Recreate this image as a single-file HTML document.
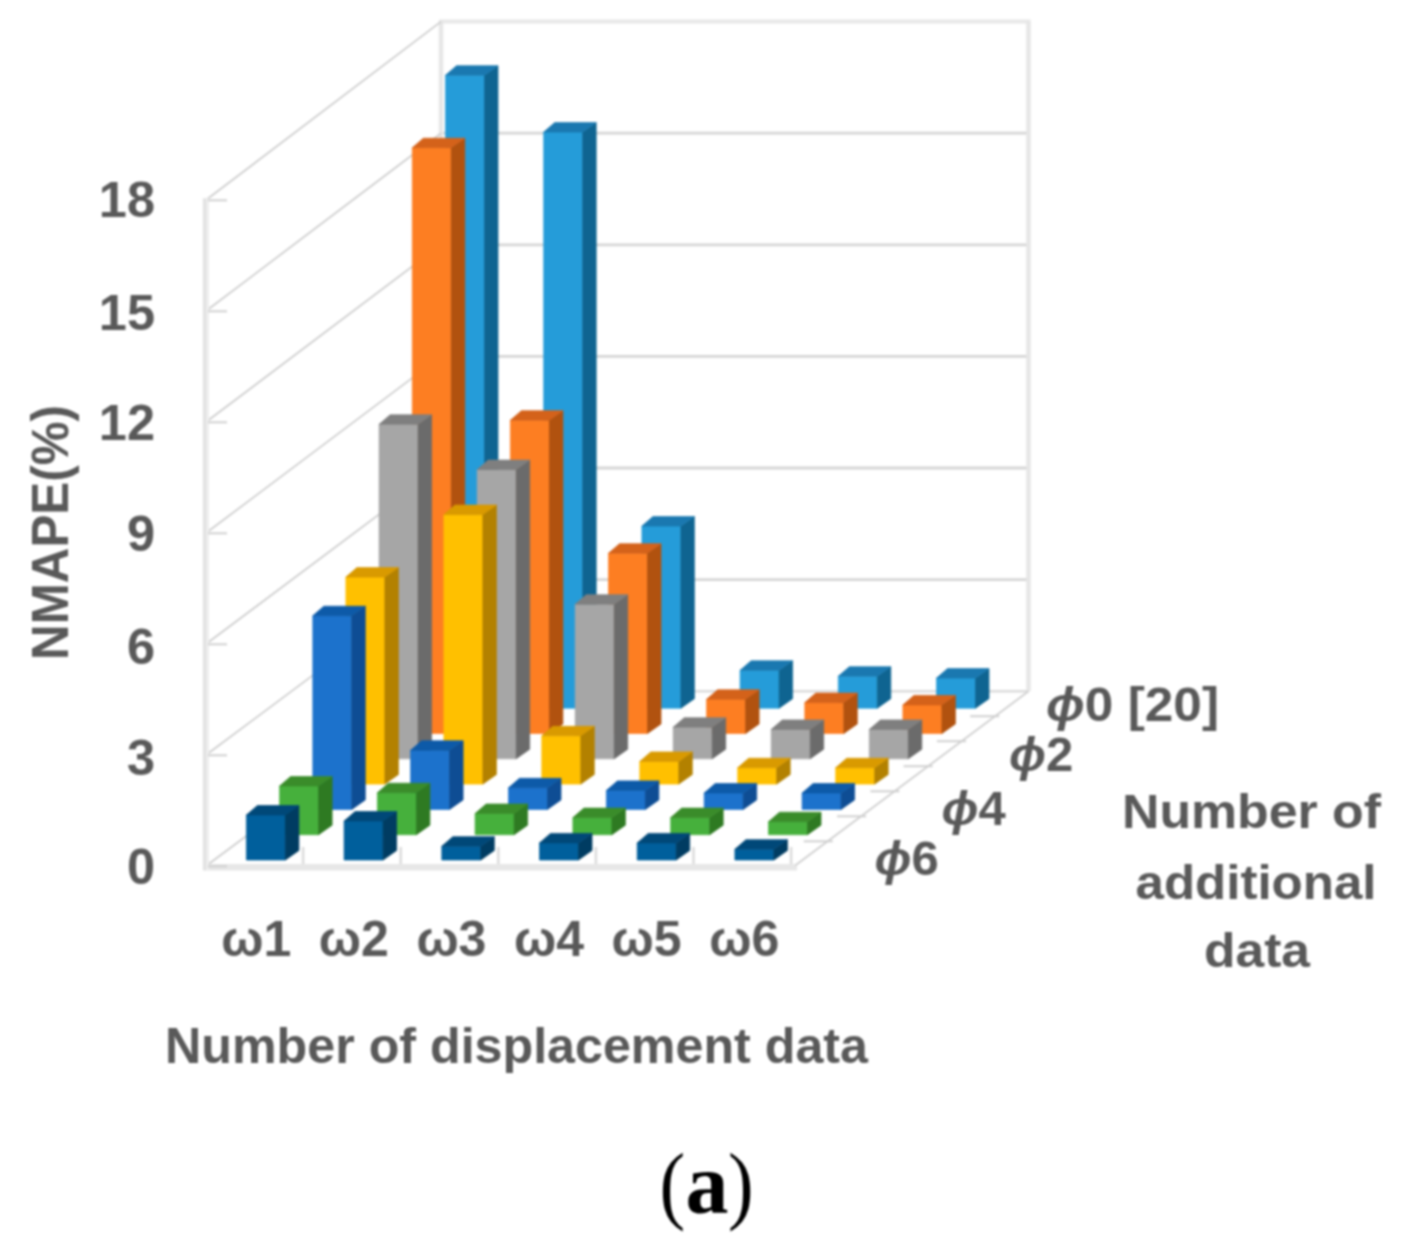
<!DOCTYPE html>
<html><head><meta charset="utf-8"><title>NMAPE 3D chart</title>
<style>
html,body{margin:0;padding:0;background:#fff;}
body{width:1411px;height:1250px;overflow:hidden;}
svg{display:block;filter:blur(1px);}
text{font-family:'Liberation Sans', Arial, sans-serif;}
</style></head>
<body>
<svg width="1411" height="1250" viewBox="0 0 1411 1250">
<rect width="1411" height="1250" fill="#ffffff"/>
<line x1="441" y1="579.6" x2="1028.5" y2="579.6" stroke="#d6d6d6" stroke-width="2.8"/>
<line x1="441" y1="468" x2="1028.5" y2="468" stroke="#d6d6d6" stroke-width="2.8"/>
<line x1="441" y1="356.4" x2="1028.5" y2="356.4" stroke="#d6d6d6" stroke-width="2.8"/>
<line x1="441" y1="244.8" x2="1028.5" y2="244.8" stroke="#d6d6d6" stroke-width="2.8"/>
<line x1="441" y1="133.2" x2="1028.5" y2="133.2" stroke="#d6d6d6" stroke-width="2.8"/>
<line x1="441" y1="691.2" x2="1028.5" y2="691.2" stroke="#dcdcdc" stroke-width="2.4"/>
<line x1="439" y1="21.6" x2="1030.5" y2="21.6" stroke="#e8e8e8" stroke-width="4"/>
<line x1="441" y1="21.6" x2="441" y2="691.2" stroke="#e6e6e6" stroke-width="4.5"/>
<line x1="1028.5" y1="21.6" x2="1028.5" y2="691.2" stroke="#e6e6e6" stroke-width="4.5"/>
<line x1="207" y1="865.3" x2="441" y2="691.2" stroke="#cdcdcd" stroke-width="1.7"/>
<line x1="207" y1="754.3" x2="441" y2="579.6" stroke="#cdcdcd" stroke-width="1.7"/>
<line x1="207" y1="643.3" x2="441" y2="468" stroke="#cdcdcd" stroke-width="1.7"/>
<line x1="207" y1="532.3" x2="441" y2="356.4" stroke="#cdcdcd" stroke-width="1.7"/>
<line x1="207" y1="421.3" x2="441" y2="244.8" stroke="#cdcdcd" stroke-width="1.7"/>
<line x1="207" y1="310.3" x2="441" y2="133.2" stroke="#cdcdcd" stroke-width="1.7"/>
<line x1="207" y1="199.3" x2="441" y2="21.6" stroke="#cdcdcd" stroke-width="1.7"/>
<rect x="203" y="864" width="594" height="6.5" fill="#e7e7e7"/>
<line x1="207.5" y1="198.3" x2="207.5" y2="870.3" stroke="#eeeeee" stroke-width="3"/>
<line x1="204.5" y1="198.3" x2="204.5" y2="870.3" stroke="#e2e2e2" stroke-width="3.2"/>
<line x1="208" y1="866.3" x2="227" y2="866.3" stroke="#d0d0d0" stroke-width="2"/>
<line x1="208" y1="755.3" x2="227" y2="755.3" stroke="#d0d0d0" stroke-width="2"/>
<line x1="208" y1="644.3" x2="227" y2="644.3" stroke="#d0d0d0" stroke-width="2"/>
<line x1="208" y1="533.3" x2="227" y2="533.3" stroke="#d0d0d0" stroke-width="2"/>
<line x1="208" y1="422.3" x2="227" y2="422.3" stroke="#d0d0d0" stroke-width="2"/>
<line x1="208" y1="311.3" x2="227" y2="311.3" stroke="#d0d0d0" stroke-width="2"/>
<line x1="208" y1="200.3" x2="227" y2="200.3" stroke="#d0d0d0" stroke-width="2"/>
<line x1="795.5" y1="865.3" x2="1028.5" y2="691.2" stroke="#cfcfcf" stroke-width="1.8"/>
<line x1="803.8" y1="841.3" x2="832.8" y2="841.3" stroke="#d0d0d0" stroke-width="2"/>
<line x1="837.1" y1="816.3" x2="866.1" y2="816.3" stroke="#d0d0d0" stroke-width="2"/>
<line x1="870.4" y1="791.3" x2="899.4" y2="791.3" stroke="#d0d0d0" stroke-width="2"/>
<line x1="903.6" y1="766.2" x2="932.6" y2="766.2" stroke="#d0d0d0" stroke-width="2"/>
<line x1="936.9" y1="741.2" x2="965.9" y2="741.2" stroke="#d0d0d0" stroke-width="2"/>
<line x1="970.2" y1="716.2" x2="999.2" y2="716.2" stroke="#d0d0d0" stroke-width="2"/>
<line x1="303.1" y1="847" x2="303.1" y2="864" stroke="#dcdcdc" stroke-width="2.6"/>
<line x1="400.7" y1="847" x2="400.7" y2="864" stroke="#dcdcdc" stroke-width="2.6"/>
<line x1="498.3" y1="847" x2="498.3" y2="864" stroke="#dcdcdc" stroke-width="2.6"/>
<line x1="595.9" y1="847" x2="595.9" y2="864" stroke="#dcdcdc" stroke-width="2.6"/>
<line x1="693.5" y1="847" x2="693.5" y2="864" stroke="#dcdcdc" stroke-width="2.6"/>
<line x1="791.1" y1="847" x2="791.1" y2="864" stroke="#dcdcdc" stroke-width="2.6"/>
<polygon points="445.5,75.2 484.5,75.2 484.5,708.2 445.5,708.2" fill="#259cd9" stroke="#259cd9" stroke-width="0.7" stroke-linejoin="round"/>
<polygon points="484.5,75.2 498,65.7 498,698.7 484.5,708.2" fill="#0f6491" stroke="#0f6491" stroke-width="0.7" stroke-linejoin="round"/>
<polygon points="445.5,75.2 484.5,75.2 498,65.7 456.5,65.7" fill="#1a78b0" stroke="#1a78b0" stroke-width="0.7" stroke-linejoin="round"/>
<polygon points="543.7,132.1 582.7,132.1 582.7,708.2 543.7,708.2" fill="#259cd9" stroke="#259cd9" stroke-width="0.7" stroke-linejoin="round"/>
<polygon points="582.7,132.1 596.2,122.6 596.2,698.7 582.7,708.2" fill="#0f6491" stroke="#0f6491" stroke-width="0.7" stroke-linejoin="round"/>
<polygon points="543.7,132.1 582.7,132.1 596.2,122.6 554.7,122.6" fill="#1a78b0" stroke="#1a78b0" stroke-width="0.7" stroke-linejoin="round"/>
<polygon points="641.9,526.1 680.9,526.1 680.9,708.2 641.9,708.2" fill="#259cd9" stroke="#259cd9" stroke-width="0.7" stroke-linejoin="round"/>
<polygon points="680.9,526.1 694.4,516.6 694.4,698.7 680.9,708.2" fill="#0f6491" stroke="#0f6491" stroke-width="0.7" stroke-linejoin="round"/>
<polygon points="641.9,526.1 680.9,526.1 694.4,516.6 652.9,516.6" fill="#1a78b0" stroke="#1a78b0" stroke-width="0.7" stroke-linejoin="round"/>
<polygon points="740.1,670.3 779.1,670.3 779.1,708.2 740.1,708.2" fill="#259cd9" stroke="#259cd9" stroke-width="0.7" stroke-linejoin="round"/>
<polygon points="779.1,670.3 792.6,660.8 792.6,698.7 779.1,708.2" fill="#0f6491" stroke="#0f6491" stroke-width="0.7" stroke-linejoin="round"/>
<polygon points="740.1,670.3 779.1,670.3 792.6,660.8 751.1,660.8" fill="#1a78b0" stroke="#1a78b0" stroke-width="0.7" stroke-linejoin="round"/>
<polygon points="838.3,676.2 877.3,676.2 877.3,708.2 838.3,708.2" fill="#259cd9" stroke="#259cd9" stroke-width="0.7" stroke-linejoin="round"/>
<polygon points="877.3,676.2 890.8,666.7 890.8,698.7 877.3,708.2" fill="#0f6491" stroke="#0f6491" stroke-width="0.7" stroke-linejoin="round"/>
<polygon points="838.3,676.2 877.3,676.2 890.8,666.7 849.3,666.7" fill="#1a78b0" stroke="#1a78b0" stroke-width="0.7" stroke-linejoin="round"/>
<polygon points="936.5,678.1 975.5,678.1 975.5,708.2 936.5,708.2" fill="#259cd9" stroke="#259cd9" stroke-width="0.7" stroke-linejoin="round"/>
<polygon points="975.5,678.1 989,668.6 989,698.7 975.5,708.2" fill="#0f6491" stroke="#0f6491" stroke-width="0.7" stroke-linejoin="round"/>
<polygon points="936.5,678.1 975.5,678.1 989,668.6 947.5,668.6" fill="#1a78b0" stroke="#1a78b0" stroke-width="0.7" stroke-linejoin="round"/>
<polygon points="412.3,147.7 451.3,147.7 451.3,733.5 412.3,733.5" fill="#fd7e22" stroke="#fd7e22" stroke-width="0.7" stroke-linejoin="round"/>
<polygon points="451.3,147.7 464.8,138.2 464.8,724 451.3,733.5" fill="#b1520f" stroke="#b1520f" stroke-width="0.7" stroke-linejoin="round"/>
<polygon points="412.3,147.7 451.3,147.7 464.8,138.2 423.3,138.2" fill="#d4621a" stroke="#d4621a" stroke-width="0.7" stroke-linejoin="round"/>
<polygon points="510.4,420.2 549.4,420.2 549.4,733.5 510.4,733.5" fill="#fd7e22" stroke="#fd7e22" stroke-width="0.7" stroke-linejoin="round"/>
<polygon points="549.4,420.2 562.9,410.7 562.9,724 549.4,733.5" fill="#b1520f" stroke="#b1520f" stroke-width="0.7" stroke-linejoin="round"/>
<polygon points="510.4,420.2 549.4,420.2 562.9,410.7 521.4,410.7" fill="#d4621a" stroke="#d4621a" stroke-width="0.7" stroke-linejoin="round"/>
<polygon points="608.5,553.2 647.5,553.2 647.5,733.5 608.5,733.5" fill="#fd7e22" stroke="#fd7e22" stroke-width="0.7" stroke-linejoin="round"/>
<polygon points="647.5,553.2 661,543.7 661,724 647.5,733.5" fill="#b1520f" stroke="#b1520f" stroke-width="0.7" stroke-linejoin="round"/>
<polygon points="608.5,553.2 647.5,553.2 661,543.7 619.5,543.7" fill="#d4621a" stroke="#d4621a" stroke-width="0.7" stroke-linejoin="round"/>
<polygon points="706.6,699.3 745.6,699.3 745.6,733.5 706.6,733.5" fill="#fd7e22" stroke="#fd7e22" stroke-width="0.7" stroke-linejoin="round"/>
<polygon points="745.6,699.3 759.1,689.8 759.1,724 745.6,733.5" fill="#b1520f" stroke="#b1520f" stroke-width="0.7" stroke-linejoin="round"/>
<polygon points="706.6,699.3 745.6,699.3 759.1,689.8 717.6,689.8" fill="#d4621a" stroke="#d4621a" stroke-width="0.7" stroke-linejoin="round"/>
<polygon points="804.8,702.6 843.8,702.6 843.8,733.5 804.8,733.5" fill="#fd7e22" stroke="#fd7e22" stroke-width="0.7" stroke-linejoin="round"/>
<polygon points="843.8,702.6 857.3,693.1 857.3,724 843.8,733.5" fill="#b1520f" stroke="#b1520f" stroke-width="0.7" stroke-linejoin="round"/>
<polygon points="804.8,702.6 843.8,702.6 857.3,693.1 815.8,693.1" fill="#d4621a" stroke="#d4621a" stroke-width="0.7" stroke-linejoin="round"/>
<polygon points="902.9,704.9 941.9,704.9 941.9,733.5 902.9,733.5" fill="#fd7e22" stroke="#fd7e22" stroke-width="0.7" stroke-linejoin="round"/>
<polygon points="941.9,704.9 955.4,695.4 955.4,724 941.9,733.5" fill="#b1520f" stroke="#b1520f" stroke-width="0.7" stroke-linejoin="round"/>
<polygon points="902.9,704.9 941.9,704.9 955.4,695.4 913.9,695.4" fill="#d4621a" stroke="#d4621a" stroke-width="0.7" stroke-linejoin="round"/>
<polygon points="379.1,424.3 418.1,424.3 418.1,758.8 379.1,758.8" fill="#a6a6a6" stroke="#a6a6a6" stroke-width="0.7" stroke-linejoin="round"/>
<polygon points="418.1,424.3 431.6,414.8 431.6,749.3 418.1,758.8" fill="#6b6b6b" stroke="#6b6b6b" stroke-width="0.7" stroke-linejoin="round"/>
<polygon points="379.1,424.3 418.1,424.3 431.6,414.8 390.1,414.8" fill="#7f7f7f" stroke="#7f7f7f" stroke-width="0.7" stroke-linejoin="round"/>
<polygon points="477.2,469.6 516.2,469.6 516.2,758.8 477.2,758.8" fill="#a6a6a6" stroke="#a6a6a6" stroke-width="0.7" stroke-linejoin="round"/>
<polygon points="516.2,469.6 529.7,460.1 529.7,749.3 516.2,758.8" fill="#6b6b6b" stroke="#6b6b6b" stroke-width="0.7" stroke-linejoin="round"/>
<polygon points="477.2,469.6 516.2,469.6 529.7,460.1 488.2,460.1" fill="#7f7f7f" stroke="#7f7f7f" stroke-width="0.7" stroke-linejoin="round"/>
<polygon points="575.2,604.2 614.2,604.2 614.2,758.8 575.2,758.8" fill="#a6a6a6" stroke="#a6a6a6" stroke-width="0.7" stroke-linejoin="round"/>
<polygon points="614.2,604.2 627.7,594.7 627.7,749.3 614.2,758.8" fill="#6b6b6b" stroke="#6b6b6b" stroke-width="0.7" stroke-linejoin="round"/>
<polygon points="575.2,604.2 614.2,604.2 627.7,594.7 586.2,594.7" fill="#7f7f7f" stroke="#7f7f7f" stroke-width="0.7" stroke-linejoin="round"/>
<polygon points="673.2,727.2 712.2,727.2 712.2,758.8 673.2,758.8" fill="#a6a6a6" stroke="#a6a6a6" stroke-width="0.7" stroke-linejoin="round"/>
<polygon points="712.2,727.2 725.7,717.7 725.7,749.3 712.2,758.8" fill="#6b6b6b" stroke="#6b6b6b" stroke-width="0.7" stroke-linejoin="round"/>
<polygon points="673.2,727.2 712.2,727.2 725.7,717.7 684.2,717.7" fill="#7f7f7f" stroke="#7f7f7f" stroke-width="0.7" stroke-linejoin="round"/>
<polygon points="771.2,729.4 810.2,729.4 810.2,758.8 771.2,758.8" fill="#a6a6a6" stroke="#a6a6a6" stroke-width="0.7" stroke-linejoin="round"/>
<polygon points="810.2,729.4 823.7,719.9 823.7,749.3 810.2,758.8" fill="#6b6b6b" stroke="#6b6b6b" stroke-width="0.7" stroke-linejoin="round"/>
<polygon points="771.2,729.4 810.2,729.4 823.7,719.9 782.2,719.9" fill="#7f7f7f" stroke="#7f7f7f" stroke-width="0.7" stroke-linejoin="round"/>
<polygon points="869.3,729.4 908.3,729.4 908.3,758.8 869.3,758.8" fill="#a6a6a6" stroke="#a6a6a6" stroke-width="0.7" stroke-linejoin="round"/>
<polygon points="908.3,729.4 921.8,719.9 921.8,749.3 908.3,758.8" fill="#6b6b6b" stroke="#6b6b6b" stroke-width="0.7" stroke-linejoin="round"/>
<polygon points="869.3,729.4 908.3,729.4 921.8,719.9 880.3,719.9" fill="#7f7f7f" stroke="#7f7f7f" stroke-width="0.7" stroke-linejoin="round"/>
<polygon points="345.9,577.1 384.9,577.1 384.9,784.1 345.9,784.1" fill="#ffc000" stroke="#ffc000" stroke-width="0.7" stroke-linejoin="round"/>
<polygon points="384.9,577.1 398.4,567.6 398.4,774.6 384.9,784.1" fill="#b38100" stroke="#b38100" stroke-width="0.7" stroke-linejoin="round"/>
<polygon points="345.9,577.1 384.9,577.1 398.4,567.6 356.9,567.6" fill="#d99a00" stroke="#d99a00" stroke-width="0.7" stroke-linejoin="round"/>
<polygon points="443.9,514.6 482.9,514.6 482.9,784.1 443.9,784.1" fill="#ffc000" stroke="#ffc000" stroke-width="0.7" stroke-linejoin="round"/>
<polygon points="482.9,514.6 496.4,505.1 496.4,774.6 482.9,784.1" fill="#b38100" stroke="#b38100" stroke-width="0.7" stroke-linejoin="round"/>
<polygon points="443.9,514.6 482.9,514.6 496.4,505.1 454.9,505.1" fill="#d99a00" stroke="#d99a00" stroke-width="0.7" stroke-linejoin="round"/>
<polygon points="541.8,735.8 580.8,735.8 580.8,784.1 541.8,784.1" fill="#ffc000" stroke="#ffc000" stroke-width="0.7" stroke-linejoin="round"/>
<polygon points="580.8,735.8 594.3,726.3 594.3,774.6 580.8,784.1" fill="#b38100" stroke="#b38100" stroke-width="0.7" stroke-linejoin="round"/>
<polygon points="541.8,735.8 580.8,735.8 594.3,726.3 552.8,726.3" fill="#d99a00" stroke="#d99a00" stroke-width="0.7" stroke-linejoin="round"/>
<polygon points="639.8,761.4 678.8,761.4 678.8,784.1 639.8,784.1" fill="#ffc000" stroke="#ffc000" stroke-width="0.7" stroke-linejoin="round"/>
<polygon points="678.8,761.4 692.3,751.9 692.3,774.6 678.8,784.1" fill="#b38100" stroke="#b38100" stroke-width="0.7" stroke-linejoin="round"/>
<polygon points="639.8,761.4 678.8,761.4 692.3,751.9 650.8,751.9" fill="#d99a00" stroke="#d99a00" stroke-width="0.7" stroke-linejoin="round"/>
<polygon points="737.7,767.7 776.7,767.7 776.7,784.1 737.7,784.1" fill="#ffc000" stroke="#ffc000" stroke-width="0.7" stroke-linejoin="round"/>
<polygon points="776.7,767.7 790.2,758.2 790.2,774.6 776.7,784.1" fill="#b38100" stroke="#b38100" stroke-width="0.7" stroke-linejoin="round"/>
<polygon points="737.7,767.7 776.7,767.7 790.2,758.2 748.7,758.2" fill="#d99a00" stroke="#d99a00" stroke-width="0.7" stroke-linejoin="round"/>
<polygon points="835.7,767.7 874.7,767.7 874.7,784.1 835.7,784.1" fill="#ffc000" stroke="#ffc000" stroke-width="0.7" stroke-linejoin="round"/>
<polygon points="874.7,767.7 888.2,758.2 888.2,774.6 874.7,784.1" fill="#b38100" stroke="#b38100" stroke-width="0.7" stroke-linejoin="round"/>
<polygon points="835.7,767.7 874.7,767.7 888.2,758.2 846.7,758.2" fill="#d99a00" stroke="#d99a00" stroke-width="0.7" stroke-linejoin="round"/>
<polygon points="312.8,615.7 351.8,615.7 351.8,809.4 312.8,809.4" fill="#1c72cc" stroke="#1c72cc" stroke-width="0.7" stroke-linejoin="round"/>
<polygon points="351.8,615.7 365.3,606.2 365.3,799.9 351.8,809.4" fill="#0e4d94" stroke="#0e4d94" stroke-width="0.7" stroke-linejoin="round"/>
<polygon points="312.8,615.7 351.8,615.7 365.3,606.2 323.8,606.2" fill="#0d5aa8" stroke="#0d5aa8" stroke-width="0.7" stroke-linejoin="round"/>
<polygon points="410.6,750.3 449.6,750.3 449.6,809.4 410.6,809.4" fill="#1c72cc" stroke="#1c72cc" stroke-width="0.7" stroke-linejoin="round"/>
<polygon points="449.6,750.3 463.1,740.8 463.1,799.9 449.6,809.4" fill="#0e4d94" stroke="#0e4d94" stroke-width="0.7" stroke-linejoin="round"/>
<polygon points="410.6,750.3 449.6,750.3 463.1,740.8 421.6,740.8" fill="#0d5aa8" stroke="#0d5aa8" stroke-width="0.7" stroke-linejoin="round"/>
<polygon points="508.5,787.8 547.5,787.8 547.5,809.4 508.5,809.4" fill="#1c72cc" stroke="#1c72cc" stroke-width="0.7" stroke-linejoin="round"/>
<polygon points="547.5,787.8 561,778.3 561,799.9 547.5,809.4" fill="#0e4d94" stroke="#0e4d94" stroke-width="0.7" stroke-linejoin="round"/>
<polygon points="508.5,787.8 547.5,787.8 561,778.3 519.5,778.3" fill="#0d5aa8" stroke="#0d5aa8" stroke-width="0.7" stroke-linejoin="round"/>
<polygon points="606.4,790.4 645.4,790.4 645.4,809.4 606.4,809.4" fill="#1c72cc" stroke="#1c72cc" stroke-width="0.7" stroke-linejoin="round"/>
<polygon points="645.4,790.4 658.9,780.9 658.9,799.9 645.4,809.4" fill="#0e4d94" stroke="#0e4d94" stroke-width="0.7" stroke-linejoin="round"/>
<polygon points="606.4,790.4 645.4,790.4 658.9,780.9 617.4,780.9" fill="#0d5aa8" stroke="#0d5aa8" stroke-width="0.7" stroke-linejoin="round"/>
<polygon points="704.2,793 743.2,793 743.2,809.4 704.2,809.4" fill="#1c72cc" stroke="#1c72cc" stroke-width="0.7" stroke-linejoin="round"/>
<polygon points="743.2,793 756.7,783.5 756.7,799.9 743.2,809.4" fill="#0e4d94" stroke="#0e4d94" stroke-width="0.7" stroke-linejoin="round"/>
<polygon points="704.2,793 743.2,793 756.7,783.5 715.2,783.5" fill="#0d5aa8" stroke="#0d5aa8" stroke-width="0.7" stroke-linejoin="round"/>
<polygon points="802.1,793 841.1,793 841.1,809.4 802.1,809.4" fill="#1c72cc" stroke="#1c72cc" stroke-width="0.7" stroke-linejoin="round"/>
<polygon points="841.1,793 854.6,783.5 854.6,799.9 841.1,809.4" fill="#0e4d94" stroke="#0e4d94" stroke-width="0.7" stroke-linejoin="round"/>
<polygon points="802.1,793 841.1,793 854.6,783.5 813.1,783.5" fill="#0d5aa8" stroke="#0d5aa8" stroke-width="0.7" stroke-linejoin="round"/>
<polygon points="279.6,786 318.6,786 318.6,834.7 279.6,834.7" fill="#46b03c" stroke="#46b03c" stroke-width="0.7" stroke-linejoin="round"/>
<polygon points="318.6,786 332.1,776.5 332.1,825.2 318.6,834.7" fill="#2e7a22" stroke="#2e7a22" stroke-width="0.7" stroke-linejoin="round"/>
<polygon points="279.6,786 318.6,786 332.1,776.5 290.6,776.5" fill="#3a8c2a" stroke="#3a8c2a" stroke-width="0.7" stroke-linejoin="round"/>
<polygon points="377.4,792.7 416.4,792.7 416.4,834.7 377.4,834.7" fill="#46b03c" stroke="#46b03c" stroke-width="0.7" stroke-linejoin="round"/>
<polygon points="416.4,792.7 429.9,783.2 429.9,825.2 416.4,834.7" fill="#2e7a22" stroke="#2e7a22" stroke-width="0.7" stroke-linejoin="round"/>
<polygon points="377.4,792.7 416.4,792.7 429.9,783.2 388.4,783.2" fill="#3a8c2a" stroke="#3a8c2a" stroke-width="0.7" stroke-linejoin="round"/>
<polygon points="475.1,813.5 514.1,813.5 514.1,834.7 475.1,834.7" fill="#46b03c" stroke="#46b03c" stroke-width="0.7" stroke-linejoin="round"/>
<polygon points="514.1,813.5 527.6,804 527.6,825.2 514.1,834.7" fill="#2e7a22" stroke="#2e7a22" stroke-width="0.7" stroke-linejoin="round"/>
<polygon points="475.1,813.5 514.1,813.5 527.6,804 486.1,804" fill="#3a8c2a" stroke="#3a8c2a" stroke-width="0.7" stroke-linejoin="round"/>
<polygon points="572.9,817.6 611.9,817.6 611.9,834.7 572.9,834.7" fill="#46b03c" stroke="#46b03c" stroke-width="0.7" stroke-linejoin="round"/>
<polygon points="611.9,817.6 625.4,808.1 625.4,825.2 611.9,834.7" fill="#2e7a22" stroke="#2e7a22" stroke-width="0.7" stroke-linejoin="round"/>
<polygon points="572.9,817.6 611.9,817.6 625.4,808.1 583.9,808.1" fill="#3a8c2a" stroke="#3a8c2a" stroke-width="0.7" stroke-linejoin="round"/>
<polygon points="670.7,817.6 709.7,817.6 709.7,834.7 670.7,834.7" fill="#46b03c" stroke="#46b03c" stroke-width="0.7" stroke-linejoin="round"/>
<polygon points="709.7,817.6 723.2,808.1 723.2,825.2 709.7,834.7" fill="#2e7a22" stroke="#2e7a22" stroke-width="0.7" stroke-linejoin="round"/>
<polygon points="670.7,817.6 709.7,817.6 723.2,808.1 681.7,808.1" fill="#3a8c2a" stroke="#3a8c2a" stroke-width="0.7" stroke-linejoin="round"/>
<polygon points="768.5,821.7 807.5,821.7 807.5,834.7 768.5,834.7" fill="#46b03c" stroke="#46b03c" stroke-width="0.7" stroke-linejoin="round"/>
<polygon points="807.5,821.7 821,812.2 821,825.2 807.5,834.7" fill="#2e7a22" stroke="#2e7a22" stroke-width="0.7" stroke-linejoin="round"/>
<polygon points="768.5,821.7 807.5,821.7 821,812.2 779.5,812.2" fill="#3a8c2a" stroke="#3a8c2a" stroke-width="0.7" stroke-linejoin="round"/>
<polygon points="246.4,815 285.4,815 285.4,860 246.4,860" fill="#005f9c" stroke="#005f9c" stroke-width="0.7" stroke-linejoin="round"/>
<polygon points="285.4,815 298.9,805.5 298.9,850.5 285.4,860" fill="#003c62" stroke="#003c62" stroke-width="0.7" stroke-linejoin="round"/>
<polygon points="246.4,815 285.4,815 298.9,805.5 257.4,805.5" fill="#004878" stroke="#004878" stroke-width="0.7" stroke-linejoin="round"/>
<polygon points="344.1,821 383.1,821 383.1,860 344.1,860" fill="#005f9c" stroke="#005f9c" stroke-width="0.7" stroke-linejoin="round"/>
<polygon points="383.1,821 396.6,811.5 396.6,850.5 383.1,860" fill="#003c62" stroke="#003c62" stroke-width="0.7" stroke-linejoin="round"/>
<polygon points="344.1,821 383.1,821 396.6,811.5 355.1,811.5" fill="#004878" stroke="#004878" stroke-width="0.7" stroke-linejoin="round"/>
<polygon points="441.8,846.2 480.8,846.2 480.8,860 441.8,860" fill="#005f9c" stroke="#005f9c" stroke-width="0.7" stroke-linejoin="round"/>
<polygon points="480.8,846.2 494.3,836.7 494.3,850.5 480.8,860" fill="#003c62" stroke="#003c62" stroke-width="0.7" stroke-linejoin="round"/>
<polygon points="441.8,846.2 480.8,846.2 494.3,836.7 452.8,836.7" fill="#004878" stroke="#004878" stroke-width="0.7" stroke-linejoin="round"/>
<polygon points="539.5,842.9 578.5,842.9 578.5,860 539.5,860" fill="#005f9c" stroke="#005f9c" stroke-width="0.7" stroke-linejoin="round"/>
<polygon points="578.5,842.9 592,833.4 592,850.5 578.5,860" fill="#003c62" stroke="#003c62" stroke-width="0.7" stroke-linejoin="round"/>
<polygon points="539.5,842.9 578.5,842.9 592,833.4 550.5,833.4" fill="#004878" stroke="#004878" stroke-width="0.7" stroke-linejoin="round"/>
<polygon points="637.2,842.9 676.2,842.9 676.2,860 637.2,860" fill="#005f9c" stroke="#005f9c" stroke-width="0.7" stroke-linejoin="round"/>
<polygon points="676.2,842.9 689.7,833.4 689.7,850.5 676.2,860" fill="#003c62" stroke="#003c62" stroke-width="0.7" stroke-linejoin="round"/>
<polygon points="637.2,842.9 676.2,842.9 689.7,833.4 648.2,833.4" fill="#004878" stroke="#004878" stroke-width="0.7" stroke-linejoin="round"/>
<polygon points="734.9,849.2 773.9,849.2 773.9,860 734.9,860" fill="#005f9c" stroke="#005f9c" stroke-width="0.7" stroke-linejoin="round"/>
<polygon points="773.9,849.2 787.4,839.7 787.4,850.5 773.9,860" fill="#003c62" stroke="#003c62" stroke-width="0.7" stroke-linejoin="round"/>
<polygon points="734.9,849.2 773.9,849.2 787.4,839.7 745.9,839.7" fill="#004878" stroke="#004878" stroke-width="0.7" stroke-linejoin="round"/>
<text x="155" y="884.4" text-anchor="end" font-size="50.5" font-weight="bold" fill="#595959">0</text>
<text x="155" y="774.9" text-anchor="end" font-size="50.5" font-weight="bold" fill="#595959">3</text>
<text x="155" y="664.4" text-anchor="end" font-size="50.5" font-weight="bold" fill="#595959">6</text>
<text x="155" y="550.8" text-anchor="end" font-size="50.5" font-weight="bold" fill="#595959">9</text>
<text x="155" y="440.4" text-anchor="end" font-size="50.5" font-weight="bold" fill="#595959">12</text>
<text x="155" y="329.9" text-anchor="end" font-size="50.5" font-weight="bold" fill="#595959">15</text>
<text x="155" y="216.5" text-anchor="end" font-size="50.5" font-weight="bold" fill="#595959">18</text>
<text x="256.2" y="955.8" text-anchor="middle" font-size="50" font-weight="bold" fill="#595959">&#969;1</text>
<text x="353.8" y="955.8" text-anchor="middle" font-size="50" font-weight="bold" fill="#595959">&#969;2</text>
<text x="451.4" y="955.8" text-anchor="middle" font-size="50" font-weight="bold" fill="#595959">&#969;3</text>
<text x="549" y="955.8" text-anchor="middle" font-size="50" font-weight="bold" fill="#595959">&#969;4</text>
<text x="646.6" y="955.8" text-anchor="middle" font-size="50" font-weight="bold" fill="#595959">&#969;5</text>
<text x="744.2" y="955.8" text-anchor="middle" font-size="50" font-weight="bold" fill="#595959">&#969;6</text>
<text x="165" y="1062.8" font-size="49.4" font-weight="bold" fill="#595959" textLength="703" lengthAdjust="spacingAndGlyphs">Number of displacement data</text>
<text transform="translate(67.8,660) rotate(-90)" x="0" y="0" font-size="52" font-weight="bold" fill="#595959" textLength="255" lengthAdjust="spacingAndGlyphs">NMAPE(%)</text>
<text x="1122" y="827.6" font-size="49" font-weight="bold" fill="#595959" textLength="259" lengthAdjust="spacingAndGlyphs">Number of</text>
<text x="1135.5" y="899" font-size="49" font-weight="bold" fill="#595959" textLength="241" lengthAdjust="spacingAndGlyphs">additional</text>
<text x="1204" y="966.5" font-size="49" font-weight="bold" fill="#595959" textLength="106" lengthAdjust="spacingAndGlyphs">data</text>
<text x="1046" y="721.2" font-size="49" font-weight="bold" fill="#595959" textLength="173" lengthAdjust="spacingAndGlyphs"><tspan style="font-style:italic">&#981;</tspan>0 [20]</text>
<text x="1009" y="771" font-size="49" font-weight="bold" fill="#595959"><tspan style="font-style:italic">&#981;</tspan>2</text>
<text x="941.5" y="824.9" font-size="49" font-weight="bold" fill="#595959"><tspan style="font-style:italic">&#981;</tspan>4</text>
<text x="874.5" y="874.7" font-size="49" font-weight="bold" fill="#595959"><tspan style="font-style:italic">&#981;</tspan>6</text>
<text x="707" y="1212.8" text-anchor="middle" style="font-family:'Liberation Serif', 'Times New Roman', serif" font-size="86" font-weight="bold" fill="#000">a</text>
<text transform="translate(0,1212.8) scale(1,1.12)" x="659.5" y="0" style="font-family:'Liberation Serif', 'Times New Roman', serif" font-size="77" fill="#000">(</text>
<text transform="translate(0,1212.8) scale(1,1.12)" x="728" y="0" style="font-family:'Liberation Serif', 'Times New Roman', serif" font-size="77" fill="#000">)</text>
</svg>
</body></html>
